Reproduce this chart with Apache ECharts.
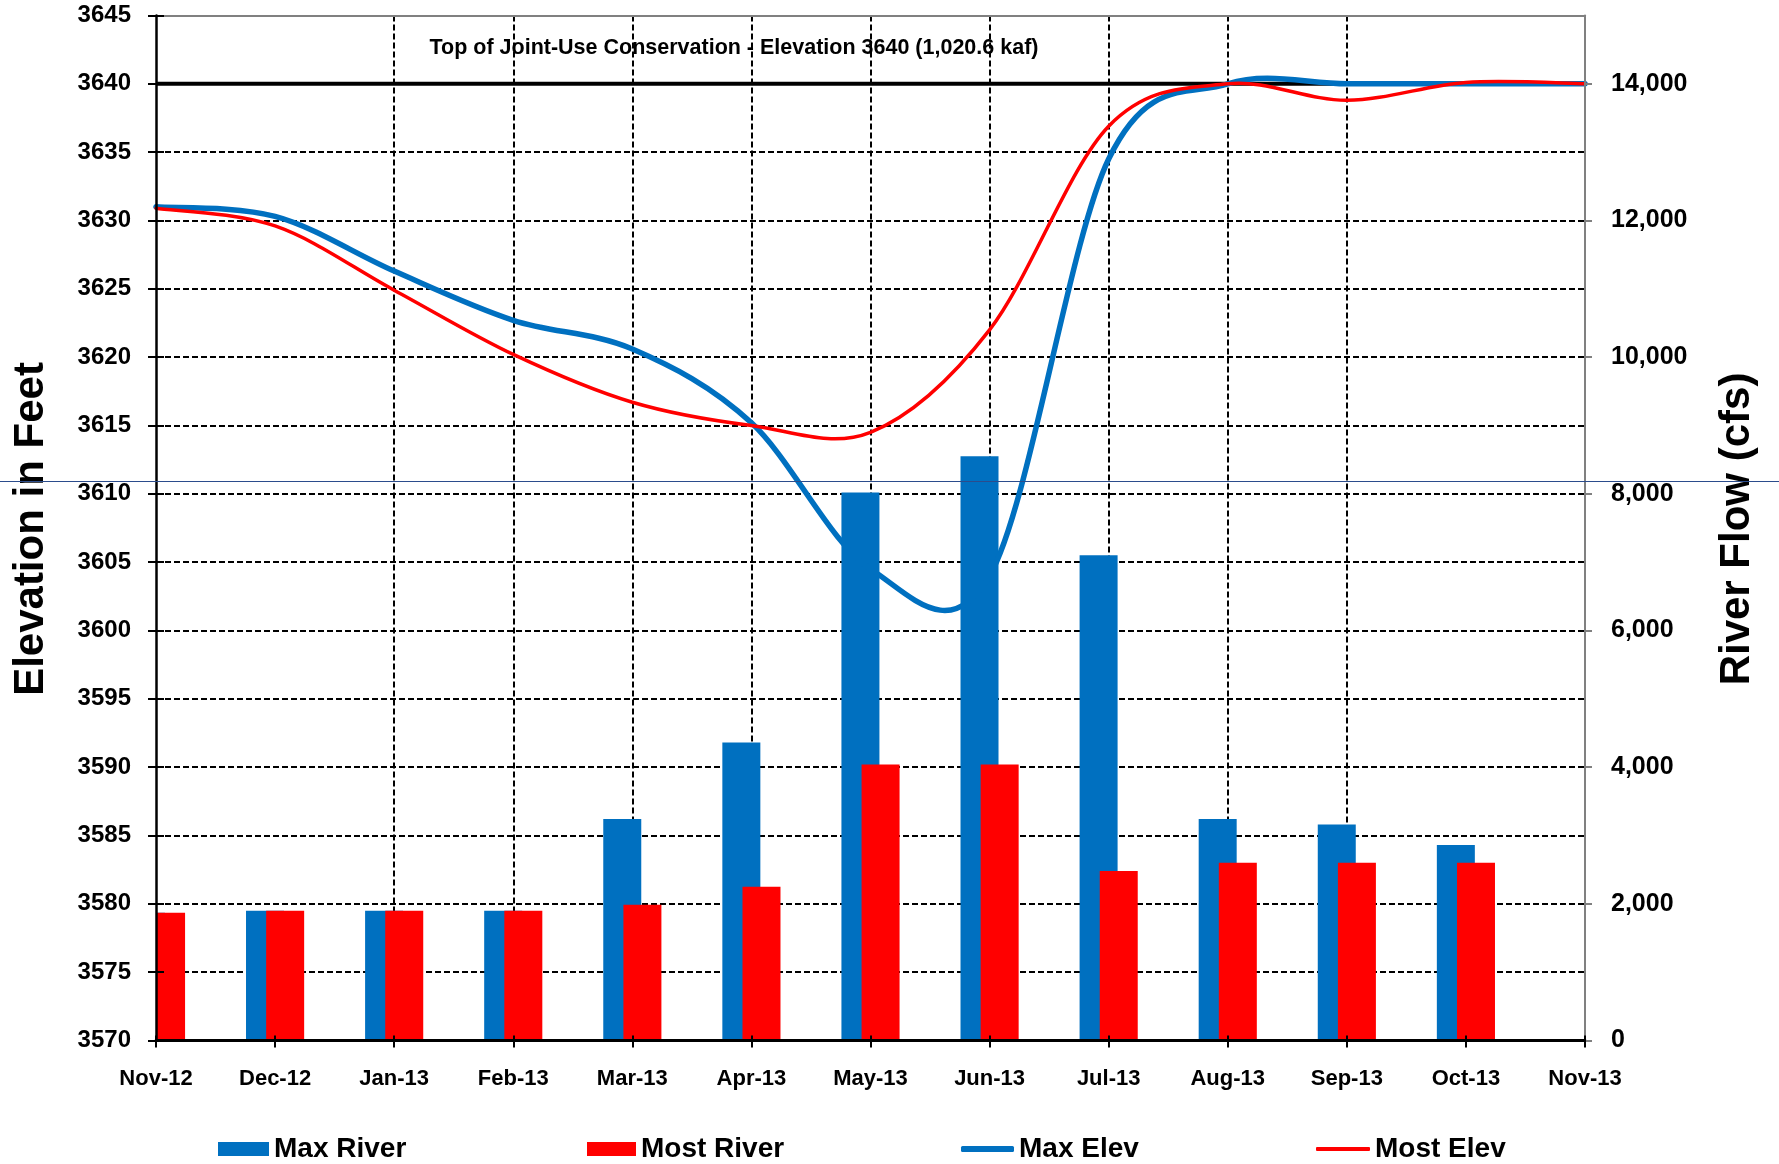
<!DOCTYPE html>
<html>
<head>
<meta charset="utf-8">
<title>Reservoir Elevation and River Flow, Nov-12 to Nov-13</title>
<script src="https://cdn.jsdelivr.net/npm/echarts@6/dist/echarts.min.js"></script>
<style>
  html, body { margin: 0; padding: 0; background: #ffffff; }
  #chart { width: 1779px; height: 1164px; }
</style>
</head>
<body>
<div id="chart"></div>
<script>
// Month-end categories along the bottom axis
const months = ['Nov-12', 'Dec-12', 'Jan-13', 'Feb-13', 'Mar-13', 'Apr-13', 'May-13',
                'Jun-13', 'Jul-13', 'Aug-13', 'Sep-13', 'Oct-13', 'Nov-13'];

// Monthly river flow (cfs), right axis
const maxRiver  = [1870, 1900, 1900, 1900, 3240, 4360, 8020, 8550, 7100, 3240, 3160, 2860, null];
const mostRiver = [1870, 1900, 1900, 1900, 1985, 2250, 4040, 4040, 2480, 2600, 2600, 2600, null];

// Reservoir elevation (ft), left axis
const maxElev  = [3631.0, 3630.3, 3626.3, 3622.7, 3620.6, 3615.2, 3604.5, 3604.0, 3634.5, 3640.0, 3640.0, 3640.0, 3640.0];
const mostElev = [3630.9, 3629.6, 3624.9, 3620.2, 3616.7, 3615.0, 3614.5, 3622.0, 3636.9, 3640.0, 3638.8, 3640.1, 3640.0];

// Top of joint-use conservation pool
const conservationTop = [3640, 3640, 3640, 3640, 3640, 3640, 3640, 3640, 3640, 3640, 3640, 3640, 3640];

// Labelled ticks on the flow axis
const flowTicks = [0, 2000, 4000, 6000, 8000, 10000, 12000, 14000];

const BLUE = '#0070C0';
const RED = '#FF0000';
const FONT = '"Liberation Sans", Arial, Helvetica, sans-serif';

// Smoothed elevation trace: cubic Bezier through the monthly points
// (Catmull-Rom tangents), positioned with the chart's own axes.
function elevationCurve(name, values, color, width) {
  return {
    name: name,
    type: 'custom',
    xAxisIndex: 0,
    yAxisIndex: 0,
    z: 6,
    silent: true,
    itemStyle: { color: color },
    data: values.map(function (v, i) { return [i, v]; }),
    encode: { x: 0, y: 1 },
    renderItem: function (params, api) {
      if (params.dataIndex !== 0) return null;
      const pts = values.map(function (v, i) { return api.coord([i, v]); });
      const n = pts.length;
      let d = 'M' + pts[0][0] + ',' + pts[0][1];
      for (let i = 0; i < n - 1; i++) {
        const p0 = pts[Math.max(i - 1, 0)];
        const p1 = pts[i];
        const p2 = pts[i + 1];
        const p3 = pts[Math.min(i + 2, n - 1)];
        const c1x = p1[0] + (p2[0] - p0[0]) / 6;
        const c1y = p1[1] + (p2[1] - p0[1]) / 6;
        const c2x = p2[0] - (p3[0] - p1[0]) / 6;
        const c2y = p2[1] - (p3[1] - p1[1]) / 6;
        d += ' C' + c1x + ',' + c1y + ' ' + c2x + ',' + c2y + ' ' + p2[0] + ',' + p2[1];
      }
      return {
        type: 'path',
        shape: { pathData: d },
        style: { fill: 'none', stroke: color, lineWidth: width, lineCap: 'round', lineJoin: 'round' }
      };
    }
  };
}

const gridDash = { color: '#000000', width: 2, type: [6, 3] };
const legendText = { fontFamily: FONT, fontWeight: 'bold', fontSize: 28, color: '#000000', lineHeight: 28 };

const chart = echarts.init(document.getElementById('chart'), null, { renderer: 'canvas' });

chart.setOption({
  animation: false,
  backgroundColor: '#ffffff',
  grid: { left: 156, right: 194, top: 15.5, bottom: 123.5, containLabel: false },
  xAxis: [
    {
      type: 'category',
      data: months,
      position: 'bottom',
      boundaryGap: false,
      z: 10,
      axisLine: { show: true, onZero: false, lineStyle: { color: '#000000', width: 3 } },
      axisTick: { show: true, inside: false, length: 7, interval: 0, lineStyle: { color: '#000000', width: 2 } },
      axisLabel: { interval: 0, margin: 27, fontFamily: FONT, fontWeight: 'bold', fontSize: 22, color: '#000000' },
      splitLine: { show: false }
    },
    {
      // plot-area top border
      type: 'category',
      data: months,
      position: 'top',
      boundaryGap: false,
      axisLine: { show: true, onZero: false, lineStyle: { color: '#808080', width: 2 } },
      axisTick: { show: false },
      axisLabel: { show: false },
      splitLine: {
        show: true,
        showMinLine: false,
        showMaxLine: false,
        interval: function (index) { return index > 0 && index < months.length - 1; },
        lineStyle: gridDash
      }
    },
    {
      // inner half of the cross tick marks on the month axis
      type: 'category',
      data: months,
      position: 'bottom',
      boundaryGap: false,
      z: 10,
      axisLine: { show: false, onZero: false },
      axisTick: { show: true, inside: true, length: 5, interval: 0, lineStyle: { color: '#000000', width: 2 } },
      axisLabel: { show: false },
      splitLine: { show: false }
    }
  ],
  yAxis: [
    {
      // elevation scale: horizontal grid
      type: 'value',
      position: 'left',
      min: 3570,
      max: 3645,
      interval: 5,
      axisLine: { show: false, onZero: false },
      axisTick: { show: false },
      axisLabel: { show: false },
      splitLine: { show: true, showMinLine: false, showMaxLine: false, lineStyle: gridDash }
    },
    {
      type: 'value',
      position: 'right',
      min: 0,
      max: 15000,
      interval: 2000,
      z: 10,
      axisLine: { show: true, onZero: false, lineStyle: { color: '#808080', width: 2 } },
      axisTick: { show: true, inside: false, length: 7, customValues: flowTicks, lineStyle: { color: '#808080', width: 2 } },
      axisLabel: {
        margin: 26,
        customValues: flowTicks,
        fontFamily: FONT, fontWeight: 'bold', fontSize: 25, color: '#000000',
        formatter: function (v) { return Number(v).toLocaleString('en-US'); }
      },
      splitLine: { show: false }
    },
    {
      // elevation axis line, outer ticks and labels
      type: 'value',
      position: 'left',
      min: 3570,
      max: 3645,
      interval: 5,
      z: 10,
      axisLine: { show: true, onZero: false, lineStyle: { color: '#000000', width: 2.5 } },
      axisTick: { show: true, inside: false, length: 8, lineStyle: { color: '#000000', width: 2 } },
      axisLabel: {
        margin: 25, fontFamily: FONT, fontWeight: 'bold', fontSize: 24, color: '#000000',
        formatter: function (v) { return String(v); }
      },
      splitLine: { show: false }
    },
    {
      // inner half of the cross tick marks on the elevation axis
      type: 'value',
      position: 'left',
      min: 3570,
      max: 3645,
      interval: 5,
      z: 10,
      axisLine: { show: false, onZero: false },
      axisTick: { show: true, inside: true, length: 8, lineStyle: { color: '#000000', width: 2 } },
      axisLabel: { show: false },
      splitLine: { show: false }
    }
  ],
  legend: [
    { data: [{ name: 'Max River', icon: 'rect' }], left: 218, top: 1135, padding: 0,
      itemWidth: 51, itemHeight: 14, selectedMode: false, textStyle: legendText },
    { data: [{ name: 'Most River', icon: 'rect' }], left: 587, top: 1135, padding: 0,
      itemWidth: 49, itemHeight: 14, selectedMode: false, textStyle: legendText },
    { data: [{ name: 'Max Elev', icon: 'roundRect', itemStyle: { color: BLUE } }], left: 961, top: 1135, padding: 0,
      itemWidth: 53, itemHeight: 6, selectedMode: false, textStyle: legendText },
    { data: [{ name: 'Most Elev', icon: 'roundRect', itemStyle: { color: RED } }], left: 1316, top: 1135, padding: 0,
      itemWidth: 54, itemHeight: 4, selectedMode: false, textStyle: legendText }
  ],
  graphic: [
    {
      // trims the first month's bars at the plot's left edge
      type: 'rect', z: 5, silent: true,
      shape: { x: 60, y: 870, width: 96, height: 176 },
      style: { fill: '#ffffff' }
    },
    {
      type: 'text', x: 31, y: 529, rotation: Math.PI / 2, silent: true,
      style: { text: 'Elevation in Feet', font: 'bold 42px ' + FONT, fill: '#000000',
               align: 'center', verticalAlign: 'middle', textAlign: 'center', textVerticalAlign: 'middle' }
    },
    {
      type: 'text', x: 1737, y: 529, rotation: Math.PI / 2, silent: true,
      style: { text: 'River Flow (cfs)', font: 'bold 42px ' + FONT, fill: '#000000',
               align: 'center', verticalAlign: 'middle', textAlign: 'center', textVerticalAlign: 'middle' }
    },
    {
      type: 'text', x: 734, y: 48, silent: true,
      style: { text: 'Top of Joint-Use Conservation - Elevation 3640 (1,020.6 kaf)', font: 'bold 21.5px ' + FONT,
               fill: '#000000', align: 'center', verticalAlign: 'middle', textAlign: 'center', textVerticalAlign: 'middle' }
    },
    {
      // thin page-wide rule
      type: 'line', z: 100, silent: true,
      shape: { x1: 0, y1: 481.5, x2: 1779, y2: 481.5 },
      style: { stroke: '#2B4C8C', lineWidth: 1.2 }
    }
  ],
  series: [
    {
      name: 'Max River', type: 'bar', xAxisIndex: 0, yAxisIndex: 1,
      data: maxRiver, barWidth: 38, barGap: '-47%',
      itemStyle: { color: BLUE }, z: 2
    },
    {
      name: 'Most River', type: 'bar', xAxisIndex: 0, yAxisIndex: 1,
      data: mostRiver, barWidth: 38, barGap: '-47%',
      itemStyle: { color: RED }, z: 2
    },
    {
      name: 'Top of Joint-Use Conservation', type: 'line', xAxisIndex: 0, yAxisIndex: 0,
      data: conservationTop, symbol: 'none', silent: true, z: 4,
      lineStyle: { color: '#000000', width: 4 }
    },
    elevationCurve('Max Elev', maxElev, BLUE, 5.5),
    elevationCurve('Most Elev', mostElev, RED, 3.5)
  ]
});
</script>
</body>
</html>
